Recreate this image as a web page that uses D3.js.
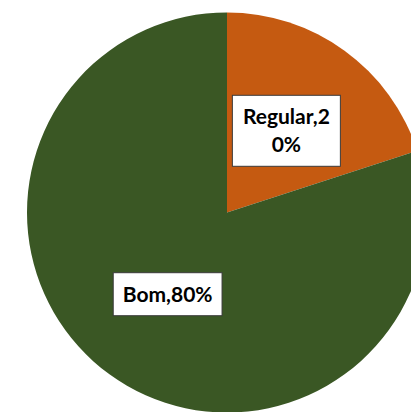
<!DOCTYPE html>
<html>
<head>
<meta charset="utf-8">
<script src="https://cdn.jsdelivr.net/npm/d3@7"></script>
<style>
  html, body { margin: 0; padding: 0; background: #fff; }
  svg { display: block; }
</style>
</head>
<body>
<svg id="chart" width="411" height="412"></svg>
<script>
// Pie data: rating categories and their shares (%)
const categories = ["Regular", "Bom"];
const values = [20, 80];
const colors = ["#C55A11", "#3A5724"];

const width = 411, height = 412;
const cx = 227, cy = 212.5, radius = 200;
const labelRadius = 101;
const maxLabelWidth = 93;
const fontSize = 21;
const lineHeight = 28;
const padX = 9.5, padY = 9;

const svg = d3.select("#chart");
const g = svg.append("g").attr("transform", `translate(${cx},${cy})`);

const data = categories.map((c, i) => ({ category: c, value: values[i], color: colors[i] }));

const pie = d3.pie().value(d => d.value).sort(null);
const arcs = pie(data);

const arc = d3.arc().innerRadius(0).outerRadius(radius);
const labelArc = d3.arc().innerRadius(labelRadius).outerRadius(labelRadius);

g.selectAll("path.slice")
  .data(arcs)
  .join("path")
  .attr("class", "slice")
  .attr("d", arc)
  .attr("fill", d => d.data.color);

// Data labels: "Category,NN%" inside a white box, wrapped by width
const labels = g.selectAll("g.label")
  .data(arcs)
  .join("g")
  .attr("class", "label")
  .attr("transform", d => `translate(${labelArc.centroid(d)})`);

labels.each(function(d) {
  const lg = d3.select(this);
  const rect = lg.append("rect")
    .attr("fill", "#fff")
    .attr("stroke", "#3a3a3a")
    .attr("stroke-width", 1);
  const text = lg.append("text")
    .attr("text-anchor", "middle")
    .attr("font-family", "Lato, 'Open Sans', sans-serif")
    .attr("font-weight", "bold")
    .attr("font-size", fontSize)
    .attr("fill", "#000");

  const full = `${d.data.category},${d.data.value}%`;
  // break the label character by character when it exceeds the max width
  const lines = [];
  let current = "";
  const probe = text.append("tspan");
  for (const ch of full) {
    probe.text(current + ch);
    if (current && probe.node().getComputedTextLength() > maxLabelWidth) {
      lines.push(current);
      current = ch;
    } else {
      current += ch;
    }
  }
  lines.push(current);
  probe.remove();

  const n = lines.length;
  lines.forEach((line, i) => {
    text.append("tspan")
      .attr("x", 0)
      .attr("y", (i - (n - 1) / 2) * lineHeight)
      .attr("dy", "0.35em")
      .text(line);
  });

  const bb = text.node().getBBox();
  const w = Math.max(bb.width, maxLabelWidth - 4) + 2 * padX;
  const h = bb.height + 2 * padY;
  rect.attr("x", -w / 2).attr("y", -h / 2).attr("width", w).attr("height", h);
});
</script>
</body>
</html>
